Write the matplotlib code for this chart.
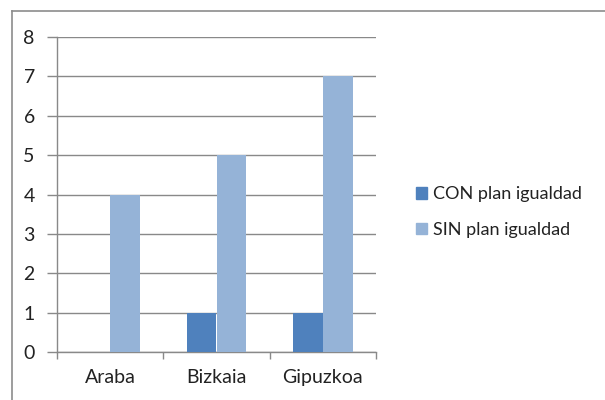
import numpy as np
import matplotlib
matplotlib.use("Agg")
import matplotlib.pyplot as plt
from matplotlib.lines import Line2D
from matplotlib.patches import Patch

categories = ["Araba", "Bizkaia", "Gipuzkoa"]
con_plan = [0, 1, 1]
sin_plan = [4, 5, 7]
series_names = ["CON plan igualdad", "SIN plan igualdad"]
y_ticks = [0, 1, 2, 3, 4, 5, 6, 7, 8]

DARK = "#4F81BD"
LIGHT = "#95B3D7"
GRID = "#898989"

plt.rcParams["font.family"] = ["Lato", "DejaVu Sans"]

fig = plt.figure(figsize=(6.05, 4.0), dpi=100)
ax = fig.add_axes([57 / 605, 1 - 352 / 400, (376 - 57) / 605, (352 - 37) / 400])

x = np.arange(len(categories))
w = 0.28
ax.bar(x - w / 2, con_plan, w, color=DARK, zorder=3)
ax.bar(x + w / 2, sin_plan, w, color=LIGHT, zorder=3)

ax.set_xlim(-0.5, len(categories) - 0.5)
ax.set_ylim(0, 8)
ax.set_yticks(y_ticks)
ax.set_xticks(x)
ax.set_xticklabels(categories)
ax.set_xticks(np.arange(len(categories) + 1) - 0.5, minor=True)
ax.tick_params(axis="x", which="major", length=0, pad=12, labelsize=14, labelcolor="#222222")
ax.tick_params(axis="x", which="minor", length=5, color=GRID, width=1)
ax.tick_params(axis="y", length=7, color=GRID, width=1, pad=9, labelsize=14, labelcolor="#222222")
ax.yaxis.grid(True, color=GRID, lw=1, zorder=0)
for s in ("top", "right"):
    ax.spines[s].set_visible(False)
for s in ("left", "bottom"):
    ax.spines[s].set_color(GRID)
    ax.spines[s].set_linewidth(1)

handles = [Patch(color=DARK), Patch(color=LIGHT)]
fig.legend(handles, series_names, loc="upper left", bbox_to_anchor=(400 / 605, 1 - 170 / 400),
           frameon=False, fontsize=13, handlelength=0.6, handleheight=0.6,
           handletextpad=0.35, labelspacing=1.1, labelcolor="#222222")

# chart border (top and left visible)
fig.add_artist(Line2D([12 / 605, 12 / 605], [0, 1 - 11 / 400], color="#8c8c8c", lw=1.2,
                      transform=fig.transFigure))
fig.add_artist(Line2D([12 / 605, 1], [1 - 11 / 400, 1 - 11 / 400], color="#8c8c8c", lw=1.2,
                      transform=fig.transFigure))

fig.savefig("out.png", dpi=100)
